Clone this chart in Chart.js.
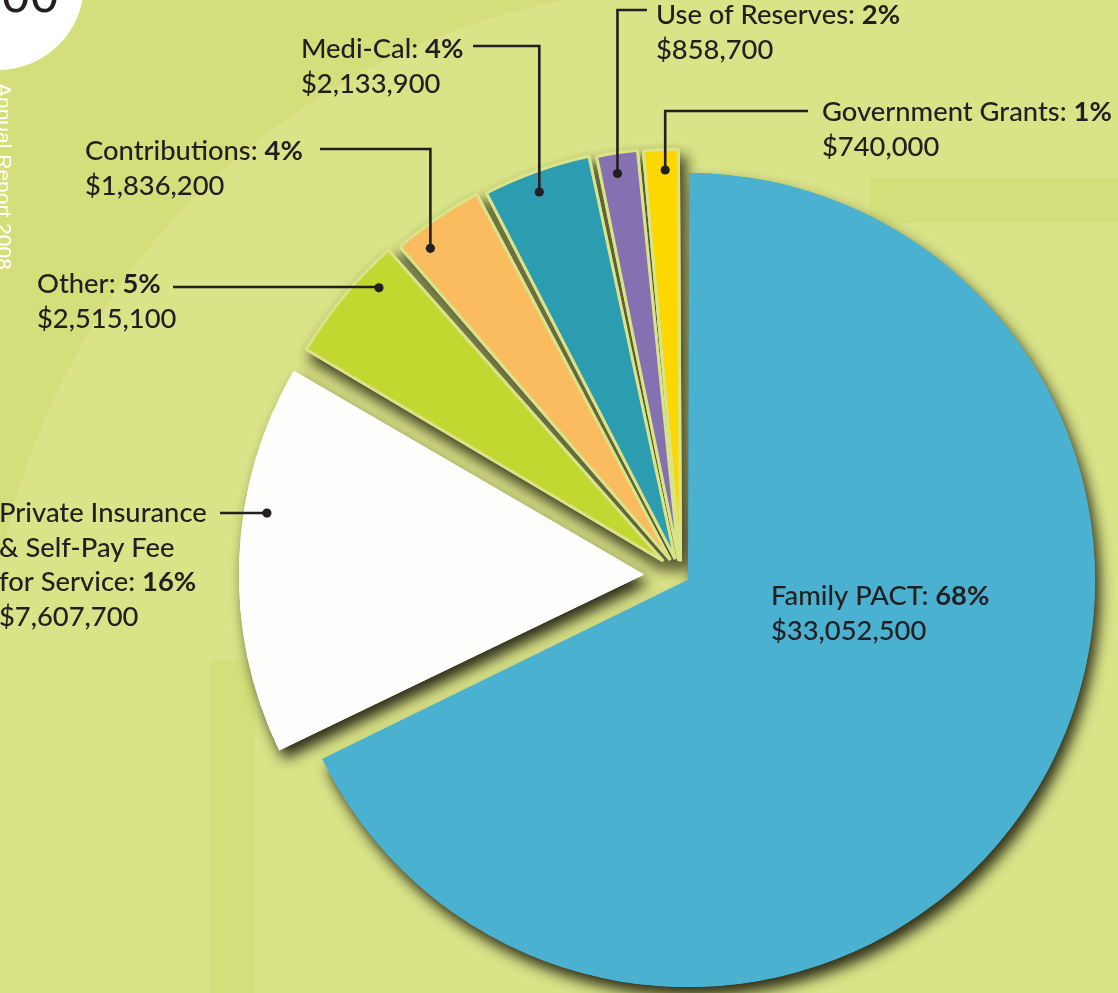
<!DOCTYPE html>
<html>
<head>
<meta charset="utf-8">
<style>
  html, body { margin: 0; padding: 0; background: #d9e388; overflow: hidden; }
  canvas { display: block; }
</style>
<script src="https://cdn.jsdelivr.net/npm/chart.js@4.4.1/dist/chart.umd.min.js"></script>
</head>
<body>
<canvas id="c" width="1118" height="993"></canvas>
<script>
// ---------------- data ----------------
const categories = ['Family PACT', 'Private Insurance & Self-Pay Fee for Service', 'Other', 'Contributions', 'Medi-Cal', 'Use of Reserves', 'Government Grants'];
const amounts = [33052500, 7607700, 2515100, 1836200, 2133900, 858700, 740000];
const percentLabels = ['68%', '16%', '5%', '4%', '4%', '2%', '1%'];
const categoryLines = [['Family PACT: '], ['Private Insurance', '& Self-Pay Fee', 'for Service: '], ['Other: '], ['Contributions: '], ['Medi-Cal: '], ['Use of Reserves: '], ['Government Grants: ']];

// ---------------- styles ----------------
const BG = '#d9e388';
const BG_DARK = '#d4df7c';
const INK = '#231f20';
const sliceColors = ['#4bb1d0', '#fefefd', '#c2d72f', '#fbbb5f', '#2c9cb0', '#8570b2', '#fdd800'];
const sliceOffsets = [32, 148, 93, 77, 71, 61, 58];
const sliceBorders = [0, 0, 3, 3, 3, 3, 3];
const dotFrac = [null, 0.625, 0.73, 0.26, 0.46, 0.44, 0.59];
const dotInset = [0, 23, 19, 19, 19, 19, 19];
// label anchor layout: text x, first baseline, leader y, leader end x
const labelLayout = [
  { x: 771, y: 605 },
  { x: -1, y: 522, lineY: 513, lineEnd: 220 },
  { x: 37, y: 293, lineY: 287, lineEnd: 173 },
  { x: 85, y: 160, lineY: 149, lineEnd: 320 },
  { x: 301, y: 58, lineY: 46, lineEnd: 473 },
  { x: 656, y: 24, lineY: 10, lineEnd: 647 },
  { x: 822, y: 121, lineY: 111, lineEnd: 808 }
];
const LINE_H = 34.5;

const fmt = v => '$' + v.toLocaleString('en-US');

// ---------------- plugins ----------------
const backgroundPlugin = {
  id: 'pageBackground',
  beforeDraw(chart) {
    const ctx = chart.ctx;
    const W = chart.width, H = chart.height;
    ctx.save();
    ctx.fillStyle = BG;
    ctx.fillRect(0, 0, W, H);
    // darker top-left area outside a large circle
    ctx.save();
    ctx.beginPath();
    ctx.rect(0, 0, 700, 700);
    ctx.clip();
    ctx.beginPath();
    ctx.rect(0, 0, W, H);
    ctx.arc(700, 700, 713, 0, Math.PI * 2, true);
    ctx.fillStyle = BG_DARK;
    ctx.fill('evenodd');
    ctx.restore();
    // subtle bands
    ctx.fillStyle = BG_DARK;
    ctx.fillRect(210, 660, 45, H - 660);
    ctx.fillRect(870, 177, W - 870, 46);
    // white circle top-left
    ctx.beginPath();
    ctx.arc(-2, -16, 86, 0, Math.PI * 2);
    ctx.fillStyle = '#ffffff';
    ctx.fill();
    ctx.fillStyle = INK;
    ctx.font = '52px "Liberation Sans", Arial, sans-serif';
    ctx.textAlign = 'right';
    ctx.textBaseline = 'alphabetic';
    ctx.fillText('00', 59, 12);
    // vertical white text
    ctx.save();
    ctx.translate(-3, 83);
    ctx.rotate(Math.PI / 2);
    ctx.textAlign = 'left';
    ctx.fillStyle = '#ffffff';
    ctx.font = '21px "Liberation Sans", Arial, sans-serif';
    ctx.fillText('Annual Report 2008', 0, 0);
    ctx.restore();
    ctx.restore();
  }
};

const shadowPlugin = {
  id: 'sliceShadow',
  beforeDatasetsDraw(chart) {
    const ctx = chart.ctx;
    const meta = chart.getDatasetMeta(0);
    ctx.save();
    ctx.shadowColor = 'rgba(40,40,22,0.97)';
    ctx.shadowBlur = 14;
    ctx.shadowOffsetX = 5;
    ctx.shadowOffsetY = 9;
    meta.data.forEach(el => el.draw(ctx));
    ctx.restore();
  }
};

function sliceGeom(el) {
  const off = (el.options.offset || 0) / 4;
  const mid = (el.startAngle + el.endAngle) / 2;
  const circ = el.endAngle - el.startAngle;
  const fix = 1 - Math.sin(Math.min(Math.PI, circ));
  return {
    cx: el.x + Math.cos(mid) * off,
    cy: el.y + Math.sin(mid) * off,
    r: el.outerRadius + off * fix - (el.options.borderWidth || 0) / 2
  };
}

const labelPlugin = {
  id: 'sliceLabels',
  afterDatasetsDraw(chart) {
    const ctx = chart.ctx;
    const meta = chart.getDatasetMeta(0);
    const family = 'Lato, "Open Sans", sans-serif';
    // calibrate font size from the width of a reference label
    ctx.save();
    ctx.font = '500 100px ' + family;
    let w = ctx.measureText(categoryLines[6][0]).width;
    ctx.font = 'bold 100px ' + family;
    w += ctx.measureText(percentLabels[6]).width;
    const size = Math.max(22, Math.min(29, 290 / w * 100));
    const reg = '500 ' + size + 'px ' + family;
    const bold = 'bold ' + size + 'px ' + family;

    meta.data.forEach((el, i) => {
      const L = labelLayout[i];
      // leader line and dot
      if (dotFrac[i] !== null) {
        const g = sliceGeom(el);
        const a = el.startAngle + dotFrac[i] * (el.endAngle - el.startAngle);
        const dx = g.cx + Math.cos(a) * (g.r - dotInset[i]);
        const dy = g.cy + Math.sin(a) * (g.r - dotInset[i]);
        ctx.strokeStyle = INK;
        ctx.lineWidth = 2.6;
        ctx.lineJoin = 'miter';
        ctx.beginPath();
        ctx.moveTo(dx, dy);
        ctx.lineTo(dx, L.lineY);
        ctx.lineTo(L.lineEnd, L.lineY);
        ctx.stroke();
        ctx.fillStyle = INK;
        ctx.beginPath();
        ctx.arc(dx, dy, 4.6, 0, Math.PI * 2);
        ctx.fill();
      }
      // text
      ctx.fillStyle = INK;
      ctx.textAlign = 'left';
      ctx.textBaseline = 'alphabetic';
      const lines = categoryLines[i];
      let y = L.y;
      lines.forEach((t, k) => {
        ctx.font = reg;
        ctx.fillText(t, L.x, y);
        if (k === lines.length - 1) {
          const tw = ctx.measureText(t).width;
          ctx.font = bold;
          ctx.fillText(percentLabels[i], L.x + tw, y);
        }
        y += LINE_H;
      });
      ctx.font = reg;
      ctx.fillText(fmt(amounts[i]), L.x, y);
    });
    ctx.restore();
  }
};

// ---------------- chart ----------------
new Chart(document.getElementById('c'), {
  type: 'pie',
  data: {
    labels: categories,
    datasets: [{
      data: amounts,
      backgroundColor: sliceColors,
      borderColor: BG,
      borderWidth: sliceBorders,
      borderAlign: 'center',
      offset: sliceOffsets,
      hoverOffset: 0,
      clip: false,
      radius: 399
    }]
  },
  options: {
    responsive: false,
    animation: false,
    events: [],
    layout: { padding: { left: 244.4, top: 158.6, right: 0, bottom: 0 } },
    plugins: { legend: { display: false }, tooltip: { enabled: false } }
  },
  plugins: [backgroundPlugin, shadowPlugin, labelPlugin]
});
</script>
</body>
</html>
